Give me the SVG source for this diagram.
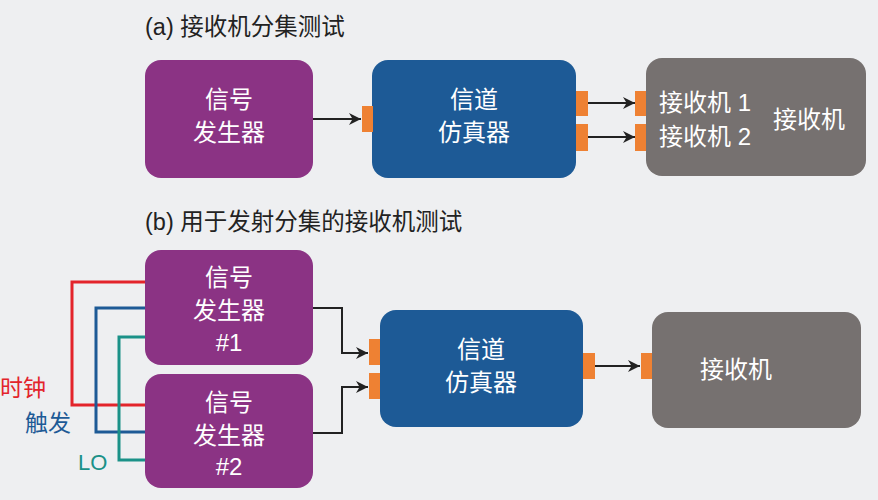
<svg xmlns="http://www.w3.org/2000/svg" width="878" height="500" viewBox="0 0 878 500">
<defs>
<marker id="ah" viewBox="0 0 10 10" refX="10" refY="5" markerWidth="12" markerHeight="12" markerUnits="userSpaceOnUse" orient="auto"><path d="M0,0 L10,5 L0,10 L3,5 z" fill="#222"/></marker>
<style>
text{font-family:"Liberation Sans","Noto Sans CJK SC",sans-serif;}
.t{font-size:23.5px;fill:#222}
.w{font-size:24px;fill:#fff;text-anchor:middle}
.wl{font-size:24px;fill:#fff}
.p{fill:#8b3384}.b{fill:#1d5a96}.g{fill:#767170}.o{fill:#ee8133}
.c{fill:none;stroke:#222;stroke-width:2}
.l{fill:none;stroke-width:3}
</style>
</defs>
<rect width="878" height="500" fill="#eeeff1"/>
<text class="t" x="145" y="35">(a) 接收机分集测试</text>
<text class="t" x="145" y="230">(b) 用于发射分集的接收机测试</text>
<g id="connectors">
<path class="c" d="M313,119 H361" marker-end="url(#ah)"/>
<path class="c" d="M588,103 H635" marker-end="url(#ah)"/>
<path class="c" d="M588,137 H635" marker-end="url(#ah)"/>
<path class="c" d="M313,308 H342 V353 H368" marker-end="url(#ah)"/>
<path class="c" d="M313,433 H342 V387 H368" marker-end="url(#ah)"/>
<path class="c" d="M595,366 H640" marker-end="url(#ah)"/>
<path class="l" stroke="#e3242b" d="M145,282 H72 V405 H145"/>
<path class="l" stroke="#1d5a96" d="M145,308 H96 V432 H145"/>
<path class="l" stroke="#1a9188" d="M145,337 H119 V460 H145"/>
</g>
<g id="a-siggen"><rect class="p" x="145" y="60" width="168" height="118" rx="16"/><text class="w" x="229" y="108">信号</text><text class="w" x="229" y="141">发生器</text></g>
<g id="a-chan"><rect class="b" x="372" y="60" width="204" height="118" rx="16"/><text class="w" x="474" y="108">信道</text><text class="w" x="474" y="141">仿真器</text>
<rect class="o" x="362" y="106" width="11" height="26"/><rect class="o" x="576" y="91" width="12" height="25"/><rect class="o" x="576" y="124" width="12" height="27"/></g>
<g id="a-rx"><rect class="g" x="646" y="58" width="220" height="118" rx="16"/>
<rect class="o" x="635" y="91" width="11" height="25"/><rect class="o" x="635" y="124" width="11" height="27"/>
<text class="wl" x="659" y="111">接收机 1</text><text class="wl" x="659" y="145">接收机 2</text><text class="wl" x="773" y="128">接收机</text></g>
<g id="b-sg1"><rect class="p" x="145" y="250" width="168" height="115" rx="16"/><text class="w" x="229" y="286">信号</text><text class="w" x="229" y="319">发生器</text><text class="w" x="229" y="351">#1</text></g>
<g id="b-sg2"><rect class="p" x="145" y="374" width="168" height="114" rx="16"/><text class="w" x="229" y="411">信号</text><text class="w" x="229" y="444">发生器</text><text class="w" x="229" y="475">#2</text></g>
<g id="b-chan"><rect class="b" x="380" y="310" width="203" height="117" rx="16"/><text class="w" x="481" y="358">信道</text><text class="w" x="481" y="391">仿真器</text>
<rect class="o" x="369" y="339" width="11" height="26"/><rect class="o" x="369" y="373" width="11" height="26"/><rect class="o" x="583" y="353" width="12" height="26"/></g>
<g id="b-rx"><rect class="g" x="652" y="312" width="209" height="116" rx="16"/><rect class="o" x="641" y="353" width="11" height="26"/><text class="wl" x="700" y="378">接收机</text></g>
<g id="labels">
<text x="0" y="396" font-size="23" fill="#e3242b">时钟</text>
<text x="25" y="431" font-size="23" fill="#1d5a96">触发</text>
<text x="78" y="470" font-size="22" fill="#1a9188">LO</text>
</g>
</svg>
